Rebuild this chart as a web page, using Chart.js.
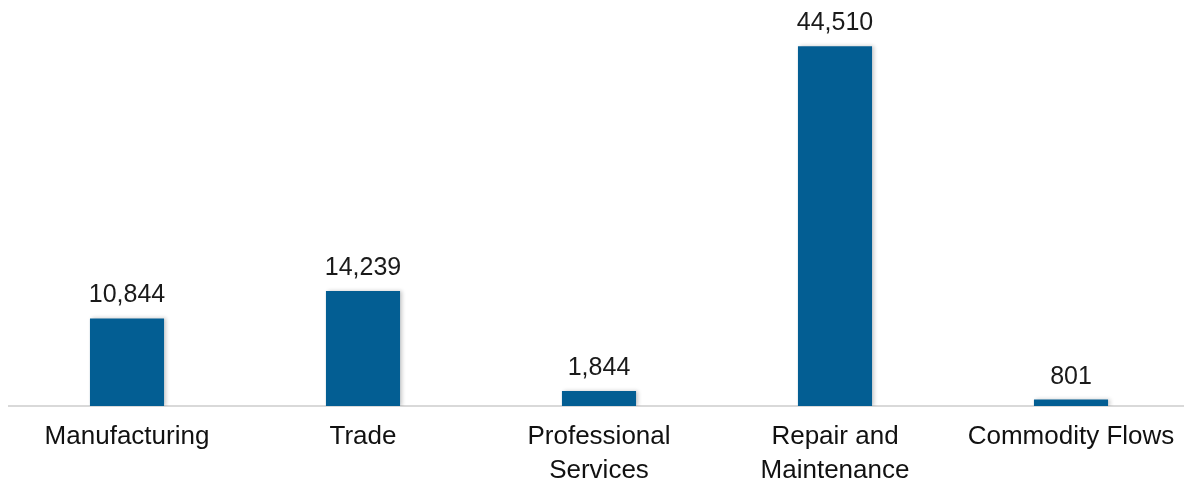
<!DOCTYPE html>
<html>
<head>
<meta charset="utf-8">
<script src="https://cdn.jsdelivr.net/npm/chart.js@4"></script>
<style>
  html, body { margin: 0; padding: 0; background: #fff; overflow: hidden; }
  #wrap { width: 1190px; height: 480px; }
</style>
</head>
<body>
<div id="wrap"><canvas id="sectorChart" width="1190" height="480"></canvas></div>
<script>
var categories = [
    'Manufacturing',
    'Trade',
    ['Professional', 'Services'],
    ['Repair and', 'Maintenance'],
    'Commodity Flows'
];
var establishments = [10844, 14239, 1844, 44510, 801];

var barColor = '#035E93';
var fontFamily = '"Liberation Sans", Arial, sans-serif';

// soft shadow behind the bars
var barShadow = {
    id: 'barShadow',
    beforeDatasetDraw: function (chart) {
        var c = chart.ctx;
        c.save();
        c.shadowColor = 'rgba(0, 0, 0, 0.22)';
        c.shadowBlur = 4;
        c.shadowOffsetX = 2;
        c.shadowOffsetY = 0;
    },
    afterDatasetDraw: function (chart) {
        chart.ctx.restore();
    }
};

// value printed above each bar
var valueLabels = {
    id: 'valueLabels',
    afterDatasetsDraw: function (chart) {
        var c = chart.ctx;
        var meta = chart.getDatasetMeta(0);
        c.save();
        c.font = '25px ' + fontFamily;
        c.fillStyle = '#1a1a1a';
        c.textAlign = 'center';
        c.textBaseline = 'alphabetic';
        meta.data.forEach(function (bar, i) {
            var v = chart.data.datasets[0].data[i];
            c.fillText(v.toLocaleString('en-US'), bar.x, bar.y - 16);
        });
        c.restore();
    }
};

var ctx = document.getElementById('sectorChart');
var myChart = new Chart(ctx, {
    type: 'bar',
    data: {
        labels: categories,
        datasets: [{
            label: 'Establishments',
            data: establishments,
            backgroundColor: barColor,
            borderWidth: 0,
            categoryPercentage: 1,
            barPercentage: 0.314
        }]
    },
    options: {
        responsive: false,
        animation: false,
        devicePixelRatio: 1,
        layout: {
            padding: { left: 9, right: 1, top: 2, bottom: 0 }
        },
        plugins: {
            legend: { display: false },
            tooltip: { enabled: false }
        },
        scales: {
            x: {
                grid: { display: false, drawTicks: false },
                border: { color: '#d9d9d9', width: 2 },
                ticks: {
                    color: '#111',
                    padding: 13,
                    maxRotation: 0,
                    autoSkip: false,
                    font: { family: fontFamily, size: 26, lineHeight: 1.34 }
                },
                afterFit: function (scale) {
                    scale.height = 74;
                }
            },
            y: {
                display: false,
                min: 0,
                max: 50000
            }
        }
    },
    plugins: [barShadow, valueLabels]
});
</script>
</body>
</html>
